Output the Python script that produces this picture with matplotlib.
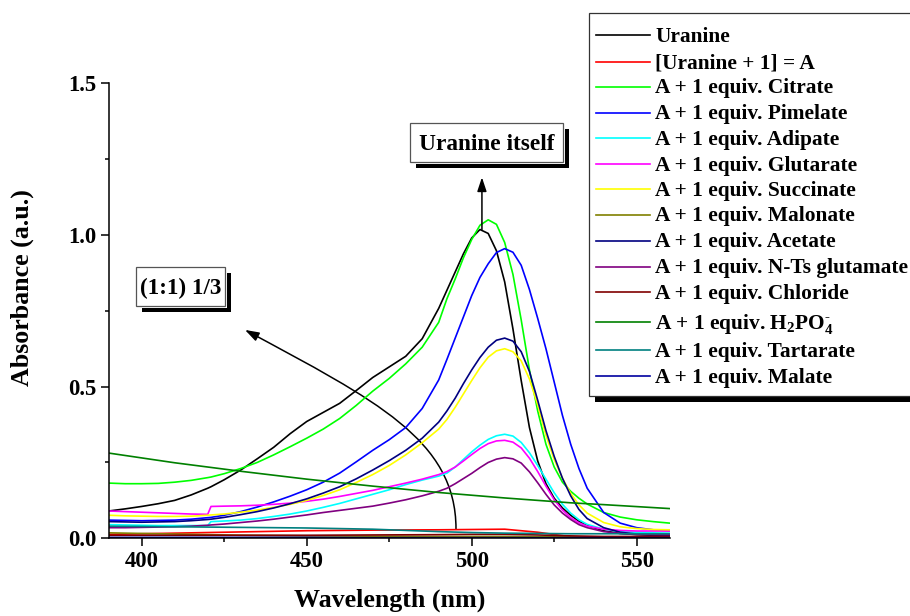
import matplotlib
matplotlib.use("Agg")
import matplotlib.pyplot as plt
from matplotlib.patches import FancyArrowPatch, Rectangle
from matplotlib.path import Path
from matplotlib.lines import Line2D

plt.rcParams['font.family'] = ['Liberation Serif', 'DejaVu Serif']
plt.rcParams['font.weight'] = 'bold'
plt.rcParams['mathtext.fontset'] = 'custom'
plt.rcParams['mathtext.rm'] = 'Liberation Serif:bold'
plt.rcParams['mathtext.bf'] = 'Liberation Serif:bold'
plt.rcParams['mathtext.it'] = 'Liberation Serif:bold:italic'
plt.rcParams['mathtext.default'] = 'rm'

# ---- spectra (nm / absorbance) ----
wavelength = [390, 395, 400, 405, 410, 415, 420, 421, 425, 430, 435, 440, 445, 450, 455,
              460, 465, 470, 475, 480, 485, 490,
              492.5, 495, 497.5, 500, 502.5, 505, 507.5, 510, 512.5, 515, 517.5, 520,
              522.5, 525, 527.5, 530, 532.5, 535, 540, 545, 550, 555, 560]

uranine = [0.090, 0.097, 0.105, 0.114, 0.125, 0.143, 0.165, 0.170, 0.193, 0.225, 0.262,
           0.300, 0.345, 0.385, 0.415, 0.445, 0.487, 0.530, 0.565, 0.600, 0.658, 0.758,
           0.818, 0.878, 0.938, 0.990, 1.018, 1.005, 0.948, 0.845, 0.690, 0.520,
           0.365, 0.255, 0.180, 0.132, 0.100, 0.076, 0.056, 0.042, 0.025, 0.016, 0.012, 0.010, 0.010]
citrate = [0.182, 0.180, 0.180, 0.181, 0.185, 0.191, 0.200, 0.202, 0.213, 0.230, 0.250,
           0.275, 0.302, 0.330, 0.360, 0.395, 0.438, 0.485, 0.527, 0.575, 0.630, 0.712,
           0.790, 0.855, 0.925, 0.985, 1.032, 1.050, 1.035, 0.975, 0.870, 0.720,
           0.555, 0.420, 0.310, 0.235, 0.185, 0.155, 0.132, 0.113, 0.085, 0.070, 0.061, 0.055, 0.050]
pimelate = [0.060, 0.059, 0.058, 0.059, 0.060, 0.063, 0.068, 0.069, 0.076, 0.088, 0.103,
            0.120, 0.139, 0.160, 0.185, 0.215, 0.252, 0.290, 0.325, 0.365, 0.428, 0.522,
            0.590, 0.660, 0.730, 0.800, 0.860, 0.905, 0.942, 0.955, 0.943, 0.900,
            0.820, 0.725, 0.625, 0.515, 0.405, 0.310, 0.230, 0.165, 0.085, 0.050, 0.035, 0.028, 0.025]
adipate = [0.045, 0.044, 0.043, 0.042, 0.042, 0.042, 0.042, 0.055, 0.057, 0.060, 0.065,
           0.072, 0.080, 0.090, 0.102, 0.115, 0.130, 0.145, 0.160, 0.177, 0.192, 0.205,
           0.215, 0.235, 0.260, 0.285, 0.307, 0.326, 0.338, 0.343, 0.337, 0.316,
           0.282, 0.240, 0.195, 0.150, 0.112, 0.083, 0.061, 0.046, 0.030, 0.022, 0.020, 0.018, 0.017]
glutarate = [0.090, 0.088, 0.086, 0.084, 0.082, 0.080, 0.079, 0.105, 0.106, 0.107, 0.109,
             0.112, 0.116, 0.122, 0.129, 0.138, 0.148, 0.158, 0.170, 0.182, 0.195, 0.210,
             0.220, 0.235, 0.255, 0.276, 0.296, 0.312, 0.321, 0.323, 0.317, 0.298,
             0.264, 0.220, 0.172, 0.127, 0.093, 0.068, 0.051, 0.040, 0.030, 0.026, 0.024, 0.024, 0.024]
succinate = [0.076, 0.074, 0.073, 0.072, 0.072, 0.073, 0.076, 0.077, 0.080, 0.086, 0.093,
             0.102, 0.112, 0.125, 0.141, 0.160, 0.184, 0.210, 0.240, 0.275, 0.315, 0.360,
             0.392, 0.432, 0.476, 0.520, 0.562, 0.597, 0.618, 0.625, 0.615, 0.585,
             0.525, 0.440, 0.340, 0.260, 0.198, 0.148, 0.110, 0.083, 0.052, 0.038, 0.032, 0.029, 0.028]
acetate = [0.055, 0.054, 0.053, 0.054, 0.055, 0.058, 0.062, 0.063, 0.069, 0.078, 0.088,
           0.100, 0.114, 0.130, 0.149, 0.170, 0.196, 0.225, 0.256, 0.290, 0.330, 0.383,
           0.420, 0.462, 0.510, 0.555, 0.596, 0.630, 0.653, 0.660, 0.650, 0.615,
           0.550, 0.455, 0.355, 0.270, 0.198, 0.140, 0.095, 0.065, 0.035, 0.020, 0.014, 0.012, 0.010]
nts_glutamate = [0.035, 0.035, 0.036, 0.037, 0.038, 0.040, 0.043, 0.044, 0.047, 0.052, 0.057,
                 0.063, 0.070, 0.077, 0.085, 0.092, 0.099, 0.106, 0.116, 0.127, 0.140, 0.155,
                 0.165, 0.180, 0.197, 0.214, 0.233, 0.250, 0.261, 0.266, 0.262, 0.248,
                 0.219, 0.183, 0.145, 0.110, 0.083, 0.062, 0.045, 0.035, 0.022, 0.016, 0.013, 0.012, 0.012]

wl_flat = [390, 410, 430, 450, 470, 490, 500, 510, 520, 530, 540, 560]
uranine_1 = [0.013, 0.017, 0.021, 0.025, 0.027, 0.028, 0.029, 0.030, 0.020, 0.005, 0.004, 0.003]
malonate = [0.018, 0.014, 0.010, 0.008, 0.007, 0.006, 0.006, 0.006, 0.005, 0.005, 0.005, 0.005]
chloride = [0.010, 0.010, 0.010, 0.010, 0.011, 0.012, 0.013, 0.013, 0.011, 0.008, 0.006, 0.006]
h2po4 = [0.281, 0.249, 0.221, 0.195, 0.172, 0.151, 0.142, 0.133, 0.125, 0.117, 0.111, 0.098]
tartarate = [0.040, 0.038, 0.036, 0.034, 0.030, 0.022, 0.019, 0.017, 0.016, 0.015, 0.015, 0.015]
malate = [0.003, 0.003, 0.003, 0.003, 0.002, 0.002, 0.002, 0.002, 0.002, 0.002, 0.002, 0.002]

labels = ['Uranine', '[Uranine + 1] = A', 'A + 1 equiv. Citrate', 'A + 1 equiv. Pimelate',
          'A + 1 equiv. Adipate', 'A + 1 equiv. Glutarate', 'A + 1 equiv. Succinate',
          'A + 1 equiv. Malonate', 'A + 1 equiv. Acetate', 'A + 1 equiv. N-Ts glutamate',
          'A + 1 equiv. Chloride', r'A + 1 equiv. H$_{2}$PO$_{4}^{\text{-}}$',
          'A + 1 equiv. Tartarate', 'A + 1 equiv. Malate']
colors = ['#000000', '#FF0000', '#00FF00', '#0000FF', '#00FFFF', '#FF00FF', '#FFFF00',
          '#808000', '#000080', '#800080', '#800000', '#008000', '#008080', '#0000A0']

series = [(wavelength, uranine), (wl_flat, uranine_1), (wavelength, citrate),
          (wavelength, pimelate), (wavelength, adipate), (wavelength, glutarate),
          (wavelength, succinate), (wl_flat, malonate), (wavelength, acetate),
          (wavelength, nts_glutamate), (wl_flat, chloride), (wl_flat, h2po4),
          (wl_flat, tartarate), (wl_flat, malate)]

W, H = 910, 616


def px(x, y):
    """pixel position (origin top-left) -> figure fraction"""
    return x / W, 1 - y / H


fig = plt.figure(figsize=(W / 100, H / 100), dpi=100)
ax = fig.add_axes([108.7 / W, 1 - 538.3 / H, 561 / W, 455 / H])

for (x, y), lab, col in zip(series, labels, colors):
    ax.plot(x, y, color=col, lw=1.2, label=lab, solid_joinstyle='round')

ax.set_xlim(390, 560)
ax.set_ylim(0, 1.5)
for side in ('top', 'right'):
    ax.spines[side].set_visible(False)
for side in ('left', 'bottom'):
    ax.spines[side].set_linewidth(1.1)

ax.set_xticks([400, 450, 500, 550])
ax.set_xticks([425, 475, 525], minor=True)
ax.set_yticks([0.0, 0.5, 1.0, 1.5])
ax.set_yticklabels(['0.0', '0.5', '1.0', '1.5'])
ax.set_yticks([0.25, 0.75, 1.25], minor=True)
ax.tick_params(which='major', direction='out', length=5.8, width=1.1, labelsize=16.3, pad=3)
ax.tick_params(which='minor', direction='out', length=3, width=1.1)
for lbl in ax.get_xticklabels() + ax.get_yticklabels():
    lbl.set_fontweight('bold')

ax.set_xlabel('Wavelength (nm)', fontsize=18.7, fontweight='bold', labelpad=12)
ax.set_ylabel('Absorbance (a.u.)', fontsize=18.7, fontweight='bold', va='center')
ax.yaxis.set_label_coords((22 - 108.7) / 561, (538.3 - 288) / 455)

# arrows
ax.annotate('', xy=(503.1, 1.19), xytext=(503.1, 1.018),
            arrowprops=dict(arrowstyle='-|>,head_length=0.6,head_width=0.2',
                            color='black', lw=1.1, shrinkA=0, shrinkB=0, mutation_scale=14))
arc = Path([(495.24, 0.031), (495.24, 0.324), (470.7, 0.456), (431.3, 0.687)],
           [Path.MOVETO, Path.CURVE4, Path.CURVE4, Path.CURVE4])
ax.add_patch(FancyArrowPatch(path=arc, arrowstyle='-|>,head_length=0.6,head_width=0.2',
                             color='black', lw=1.1, mutation_scale=14))


def framed_box(x0, y0, x1, y1, off, z, edge='#555555'):
    """white box with a solid black drop shadow, given in pixels"""
    fx0, fy1 = px(x0, y0)
    fx1, fy0 = px(x1, y1)
    w, h = fx1 - fx0, fy1 - fy0
    dx, dy = off / W, off / H
    fig.patches.append(Rectangle((fx0 + dx, fy0 - dy), w, h, transform=fig.transFigure,
                                 fc='black', ec='none', zorder=z, figure=fig))
    fig.patches.append(Rectangle((fx0 - 2 / W, fy0 - 2 / H), w + 4 / W, h + 4 / H,
                                 transform=fig.transFigure, fc='white', ec='none',
                                 zorder=z + 0.1, figure=fig))
    fig.patches.append(Rectangle((fx0, fy0), w, h, transform=fig.transFigure,
                                 fc='white', ec=edge, lw=0.9, zorder=z + 0.2, figure=fig))


framed_box(410, 123, 563, 162, 6, 5)
fig.text(*px(487, 150), 'Uranine itself', fontsize=16.8, fontweight='bold',
         ha='center', va='baseline', zorder=6)
framed_box(136, 267, 225, 306, 6, 5)
fig.text(*px(180.5, 294), '(1:1) 1/3', fontsize=16.6, fontweight='bold',
         ha='center', va='baseline', zorder=6)

# legend panel
legend_rows = [35, 61.7, 86.7, 112.7, 138.3, 164, 189.3, 215, 240.7, 266.7, 292.3,
               322.3, 350, 376]
lx0, ly0, lx1, ly1 = 589, 13, 916, 396
fx0, fy1 = px(lx0, ly0)
fx1, fy0 = px(lx1, ly1)
fig.patches.append(Rectangle((fx0 + 6 / W, fy0 - 6 / H), fx1 - fx0, fy1 - fy0,
                             transform=fig.transFigure, fc='black', ec='none',
                             zorder=7, figure=fig))
fig.patches.append(Rectangle((fx0, fy0), fx1 - fx0, fy1 - fy0, transform=fig.transFigure,
                             fc='white', ec='#333333', lw=0.9, zorder=7.2, figure=fig))
for row, lab, col in zip(legend_rows, labels, colors):
    xa, ya = px(596, row)
    xb, _ = px(650, row)
    fig.lines.append(Line2D([xa, xb], [ya, ya], transform=fig.transFigure, color=col,
                            lw=1.2, zorder=8, figure=fig))
    fig.text(*px(655, row + 6.5), lab, fontsize=15.4, fontweight='bold',
             ha='left', va='baseline', zorder=8)

fig.savefig('out.png', dpi=100)
